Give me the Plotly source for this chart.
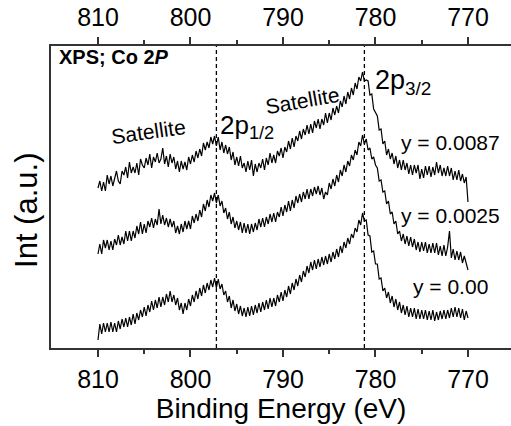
import numpy
import plotly.graph_objects as go

# binding energy grid (eV), 0.2 eV step from 810 down to 770
energy = numpy.round(numpy.linspace(810, 770, 201), 1)

# intensities (a.u., each spectrum already offset), 5 points per eV
int_y0087 = [
	160, 167, 157, 166, 157, 173, 164, 172, 162, 170, 177, 167, 164, 177, 173, 181, 170, 186, 175, 181,
	175, 185, 173, 189, 183, 180, 190, 183, 194, 180, 191, 186, 195, 185, 189, 200, 184, 192, 181, 194,
	185, 191, 179, 187, 176, 187, 179, 186, 178, 191, 184, 193, 186, 197, 190, 199, 192, 205, 198, 206,
	200, 211, 204, 212, 202, 211, 198, 206, 195, 203, 194, 201, 188, 196, 183, 191, 182, 192, 180, 185,
	176, 187, 178, 188, 172, 184, 176, 185, 180, 189, 178, 190, 183, 195, 185, 193, 185, 197, 192, 200,
	190, 201, 196, 207, 199, 210, 201, 212, 207, 217, 209, 219, 213, 223, 214, 224, 215, 227, 220, 229,
	219, 229, 223, 235, 225, 235, 228, 240, 233, 242, 235, 247, 241, 252, 244, 256, 249, 260, 253, 265,
	259, 271, 267, 276, 267, 268, 267, 253, 254, 239, 236, 232, 218, 219, 204, 207, 193, 199, 189, 195,
	184, 192, 180, 188, 178, 188, 178, 185, 174, 183, 173, 183, 175, 183, 169, 179, 170, 182, 173, 182,
	171, 181, 173, 186, 175, 183, 172, 180, 172, 182, 172, 180, 168, 177, 168, 178, 167, 174, 165, 171,
	146]
int_y0025 = [
	94, 104, 94, 108, 100, 108, 98, 107, 98, 109, 103, 113, 103, 111, 104, 117, 107, 117, 107, 117,
	110, 122, 114, 126, 114, 124, 115, 127, 121, 130, 120, 129, 123, 139, 124, 133, 123, 130, 121, 129,
	121, 127, 115, 122, 114, 124, 116, 127, 119, 127, 119, 132, 125, 134, 127, 138, 131, 144, 137, 148,
	141, 153, 147, 155, 145, 153, 142, 147, 135, 140, 129, 136, 124, 131, 120, 127, 118, 126, 115, 125,
	115, 124, 114, 124, 116, 125, 118, 129, 121, 130, 121, 131, 124, 134, 126, 135, 126, 136, 131, 141,
	132, 143, 136, 147, 137, 148, 140, 152, 145, 154, 146, 156, 149, 159, 149, 159, 152, 161, 154, 162,
	153, 160, 149, 156, 153, 165, 159, 169, 162, 173, 166, 178, 172, 183, 176, 187, 182, 193, 188, 198,
	193, 206, 202, 213, 204, 209, 198, 200, 189, 191, 183, 180, 167, 168, 156, 157, 144, 147, 134, 136,
	124, 127, 114, 117, 107, 114, 104, 112, 102, 111, 101, 109, 98, 106, 96, 106, 97, 106, 95, 104,
	95, 105, 95, 105, 93, 102, 92, 103, 92, 101, 117, 90, 99, 88, 97, 88, 96, 85, 92, 84,
	78]
int_y000 = [
	8, 24, 14, 25, 16, 25, 16, 26, 16, 25, 16, 27, 19, 29, 21, 30, 21, 31, 23, 34,
	24, 35, 28, 38, 31, 41, 32, 43, 36, 47, 38, 48, 40, 51, 41, 51, 43, 54, 46, 57,
	46, 53, 43, 50, 38, 45, 34, 45, 38, 49, 42, 53, 46, 57, 49, 60, 52, 63, 55, 65,
	58, 68, 61, 70, 60, 69, 59, 64, 53, 57, 46, 52, 40, 48, 37, 44, 34, 42, 32, 40,
	31, 41, 32, 42, 33, 43, 35, 45, 36, 46, 38, 48, 39, 50, 41, 50, 42, 53, 46, 56,
	47, 58, 51, 62, 54, 65, 58, 69, 62, 73, 66, 77, 71, 82, 75, 86, 78, 88, 79, 89,
	81, 91, 83, 92, 84, 94, 86, 96, 89, 99, 91, 102, 95, 106, 100, 110, 104, 114, 110, 120,
	116, 128, 123, 135, 127, 128, 113, 112, 96, 97, 84, 84, 69, 70, 57, 60, 50, 56, 45, 52,
	41, 49, 38, 46, 35, 43, 33, 42, 31, 40, 31, 40, 29, 39, 29, 38, 29, 38, 28, 37,
	28, 38, 27, 36, 28, 37, 29, 38, 29, 38, 30, 40, 31, 41, 31, 40, 30, 39, 28, 37,
	30]
spectra = [int_y0087, int_y0025, int_y000]
labels = ['y = 0.0087', 'y = 0.0025', 'y = 0.00']

peak_positions = [797.2, 781.2]
x_range = [815.08, 765.35]
y_range = [0, 302]
font = 'Liberation Sans, Arial, sans-serif'

fig = go.Figure()
for values in spectra:
	fig.add_trace(go.Scatter(
		x = energy,
		y = values,
		mode = 'lines',
		line = dict(color='black', width=1.2),
		showlegend = False,
	))
# same spectrum on the top axis, not shown, only so that the top axis gets drawn
fig.add_trace(go.Scatter(x=energy, y=int_y000, xaxis='x2', mode='lines', opacity=0, showlegend=False, hoverinfo='skip'))

for pos in peak_positions:
	fig.add_shape(
		type = 'line', xref = 'x', yref = 'paper',
		x0 = pos, x1 = pos, y0 = 0, y1 = 1,
		line = dict(color='black', width=1.3, dash='4px,3px'),
	)

def note(text, x, y, size, angle=0, xanchor='center', ref='data'):
	fig.add_annotation(
		text = text, x = x, y = y,
		xref = 'paper' if ref=='paper' else 'x',
		yref = 'paper' if ref=='paper' else 'y',
		showarrow = False, textangle = angle, xanchor = xanchor, yanchor = 'middle',
		font = dict(family=font, size=size, color='black'),
	)

note('<b>XPS; Co 2<i>P</i></b>', 0.012, 0.963, 20, xanchor='left', ref='paper')
note('Int (a.u.)', -0.052, 0.454, 31, angle=-90, ref='paper')
note('Satellite', 804.5, 217, 21, angle=-8)
note('Satellite', 787.9, 248, 21, angle=-10)
note('2p<sub>1/2</sub>', 797.0, 222, 26, xanchor='left')
note('2p<sub>3/2</sub>', 780.3, 266, 27, xanchor='left')
for label, y in zip(labels, [206, 133, 62]):
	note(label, 771.9, y, 21)

axis_style = dict(
	range = x_range, automargin = False,
	showline = True, linecolor = '#333333', linewidth = 2,
	ticks = 'outside', ticklen = 7, tickwidth = 1.5, tickcolor = '#333333',
	tickvals = [810, 800, 790, 780, 770],
	minor = dict(tickvals=[805, 795, 785, 775], ticks='outside', ticklen=4, tickwidth=1.5, tickcolor='#333333'),
	tickfont = dict(family=font, size=25, color='black'),
	showgrid = False, zeroline = False,
)
fig.update_layout(
	width = 511, height = 426,
	margin = dict(l=51, r=0, t=46, b=78),
	plot_bgcolor = 'white', paper_bgcolor = 'white',
	xaxis = dict(
		**axis_style, ticklabelstandoff = 1,
		title = dict(text='Binding Energy (eV)', font=dict(family=font, size=28, color='black'), standoff=3),
	),
	xaxis2 = dict(**axis_style, overlaying='x', side='top', anchor='y', ticklabelstandoff=1),
	yaxis = dict(
		range = y_range, automargin = False,
		showline = True, linecolor = '#333333', linewidth = 2,
		showticklabels = False, ticks = '', showgrid = False, zeroline = False,
	),
)
# the page's default body margin would push the figure 8 px right and down
fig.write_html('out.html', config={'displayModeBar': False}, post_script="document.body.style.margin = '0';")
